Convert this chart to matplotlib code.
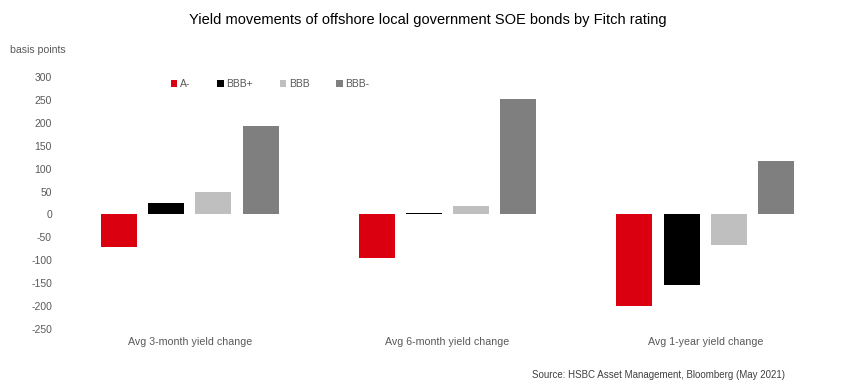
import matplotlib
matplotlib.use("Agg")
import matplotlib.pyplot as plt
import numpy as np

plt.rcParams["font.family"] = ["Liberation Sans", "DejaVu Sans"]

categories = ["Avg 3-month yield change", "Avg 6-month yield change", "Avg 1-year yield change"]
ratings = ["A-", "BBB+", "BBB", "BBB-"]
a_minus = [-72, -94, -199]
bbb_plus = [26, 3, -153]
bbb = [48, 18, -67]
bbb_minus = [192, 253, 116]
yticks = [-250, -200, -150, -100, -50, 0, 50, 100, 150, 200, 250, 300]

series = [a_minus, bbb_plus, bbb, bbb_minus]
colors = ["#DA0010", "#000000", "#BFBFBF", "#7F7F7F"]
text_grey = "#595959"

fig = plt.figure(figsize=(8.5, 3.9), dpi=100)
ax = fig.add_axes([0.0718, 0.1564, 0.9094, 0.6462])

x = np.arange(len(categories))
width = 0.14
pitch = 0.183
for i, (vals, col, name) in enumerate(zip(series, colors, ratings)):
    ax.bar(x + (i - 1.5) * pitch, vals, width, color=col, label=name)

ax.set_xlim(-0.5, 2.5)
ax.set_ylim(-250, 300)
ax.set_yticks(yticks)
ax.set_yticklabels([str(v) for v in yticks])
ax.set_xticks(x)
ax.set_xticklabels(categories)
ax.tick_params(axis="both", length=0, labelsize=7.5, labelcolor=text_grey)
ax.tick_params(axis="x", pad=5.5, labelsize=7.7)
ax.tick_params(axis="y", pad=6.5)
for s in ax.spines.values():
    s.set_visible(False)

leg = ax.legend(
    ncol=4,
    frameon=False,
    loc="center left",
    bbox_to_anchor=(171 / 850, 1 - 84 / 390),
    bbox_transform=fig.transFigure,
    borderpad=0,
    borderaxespad=0,
    handlelength=0.6,
    handleheight=0.6,
    handletextpad=0.25,
    columnspacing=2.6,
    fontsize=7.5,
)
for t in leg.get_texts():
    t.set_color(text_grey)

fig.text(0.503, 0.949, "Yield movements of offshore local government SOE bonds by Fitch rating",
         ha="center", va="center", fontsize=10.5, color="#000000")
fig.text(0.012, 0.872, "basis points", ha="left", va="center", fontsize=7.6, color=text_grey)
fig.text(0.9235, 0.038, "Source: HSBC Asset Management, Bloomberg (May 2021)",
         ha="right", va="center", fontsize=7, color="#404040")

fig.savefig("out.png", dpi=100, facecolor="white")
